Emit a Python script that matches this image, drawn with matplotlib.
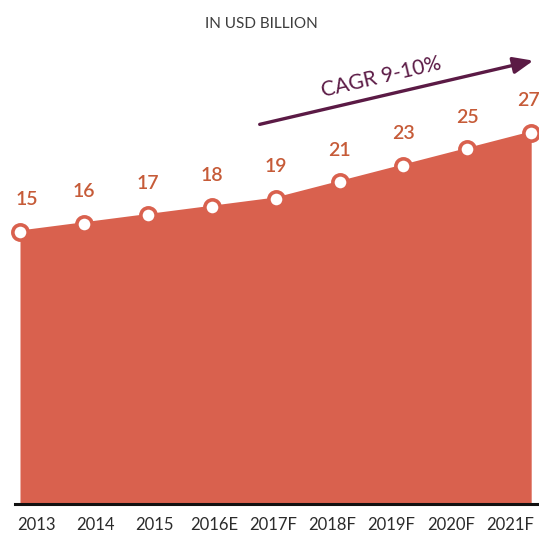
import numpy as np
import matplotlib.pyplot as plt

# data
years = ["2013", "2014", "2015", "2016E", "2017F", "2018F", "2019F", "2020F", "2021F"]
values = [15, 16, 17, 18, 19, 21, 23, 25, 27]

fill_color = "#D9614E"
label_color = "#C65B38"
arrow_color = "#5B1A45"

plt.rcParams['font.family'] = ['Lato', 'DejaVu Sans']

fig = plt.figure(figsize=(5.39, 5.34), dpi=100)
ax = fig.add_axes([15 / 539, 30 / 534, 522 / 539, 504 / 534])

x = np.arange(len(values))
ax.set_xlim(-5 / 63.9, 517 / 63.9)
ax.set_ylim(-17.97, 43.1)

ax.fill_between(x, values, -17.97, color=fill_color, lw=0, clip_on=False)
ax.plot(x, values, color=fill_color, lw=2, clip_on=False)
ax.plot(x, values, 'o', ms=11, mfc="white", mec=fill_color, mew=2.6,
        clip_on=False, zorder=5)

for i, v in enumerate(values):
    dx = 5 if i == 0 else 0
    if i == len(values) - 1:
        dx = -2
    ax.annotate(str(v), (x[i], v), xytext=(dx, 23), textcoords="offset points",
                ha="center", va="center", fontsize=14, color=label_color,
                fontweight="semibold", annotation_clip=False)

# tick labels sit on their own even spacing
tick_pos = (16 + 59.25 * np.arange(len(years))) / 63.9
ax.set_xticks(tick_pos)
ax.set_xticklabels(years, fontsize=12, color="#2b2b2b")
ax.tick_params(axis="x", length=0, pad=9)
ax.set_yticks([])

for s in ["top", "right", "left"]:
    ax.spines[s].set_visible(False)
ax.spines["bottom"].set_linewidth(2.2)
ax.spines["bottom"].set_color("#111111")

fig.text(261 / 539, 1 - 24 / 534, "IN USD BILLION", ha="center", va="center",
         fontsize=11, color="#3d3d3d")

# CAGR arrow
ax.annotate("", xy=(536, 534 - 60), xycoords="figure pixels",
            xytext=(257, 534 - 125), textcoords="figure pixels",
            arrowprops=dict(arrowstyle="-|>,head_length=1.2,head_width=0.5",
                            color=arrow_color, lw=2.4))
fig.text(381 / 539, 1 - 77 / 534, "CAGR 9-10%", ha="center", va="center",
         rotation=13.2, rotation_mode="anchor", fontsize=15, color=arrow_color)

fig.savefig("out.png", dpi=100)
